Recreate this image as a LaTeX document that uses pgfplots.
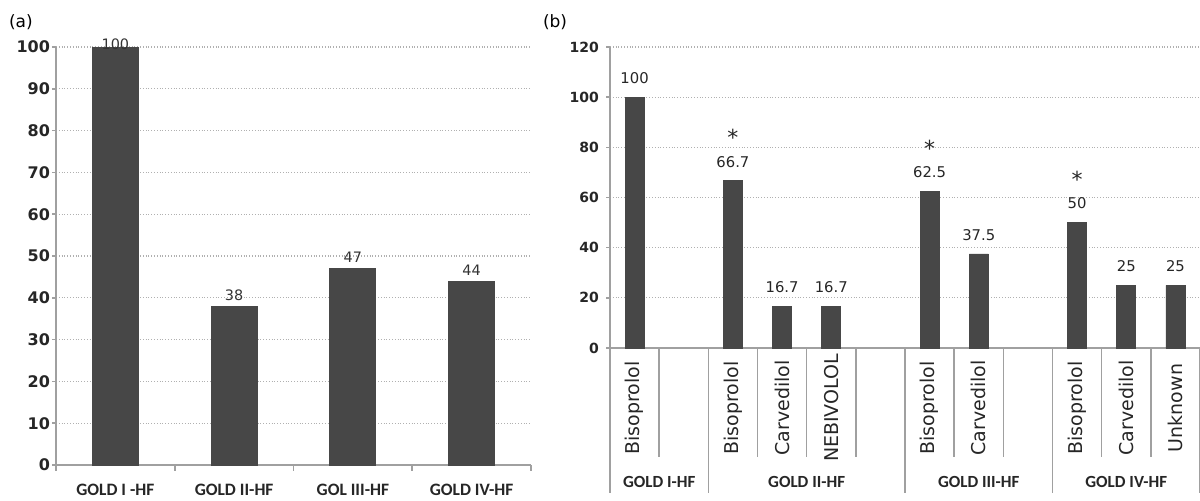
\documentclass[border=0pt]{standalone}
\usepackage{pgfplots}
\pgfplotsset{compat=1.18}
\usepackage{fontspec}
\setmainfont{DejaVu Sans}
\newfontfamily\calfont{Carlito}
\definecolor{barc}{HTML}{474747}
\definecolor{axc}{HTML}{A0A0A0}
\definecolor{gridc}{HTML}{B0B0B0}
\newcommand{\fs}[1]{\fontsize{#1}{#1}\selectfont}
\pgfplotsset{
  /pgf/number format/assume math mode=true,
  base/.style={
    scale only axis, anchor=south west, clip=false,
    axis x line=bottom, axis y line=left,
    axis line style={axc, line width=0.8pt, -},
    tick align=outside, major tick length=2pt,
    tick style={axc, line width=0.8pt},
    xtick style={draw=none},
    ymajorgrids, grid style={gridc, densely dotted, line width=0.6pt},
  }
}
\begin{document}
\begin{tikzpicture}
\useasboundingbox (0,0) rectangle (600pt,250pt);
\node[anchor=west, font=\fs{8.5}] at (1pt,239pt) {(a)};
\node[anchor=west, font=\fs{8.5}] at (268pt,239pt) {(b)};
% ---------- panel (a)
\begin{axis}[base,
  at={(28pt,17.5pt)}, width=237.5pt, height=209pt,
  xmin=0, xmax=4, ymin=0, ymax=100,
  ytick={0,10,...,100},
  yticklabel style={font=\bfseries\fs{8}, text=black!85},
  yticklabel shift=-2.5pt,
  xtick={0.5,1.5,2.5,3.5},
  xticklabels={GOLD I -HF, GOLD II-HF, GOL III-HF, GOLD IV-HF},
  xticklabel style={font=\calfont\bfseries\fs{8.7}, text=black!85},
  xticklabel shift=4pt,
]
\addplot[ybar, bar width=23pt, bar shift=0pt, fill=barc, draw=barc]
  coordinates {(0.5,100) (1.5,38) (2.5,47) (3.5,44)};
\addplot[draw=none, mark=none, nodes near coords,
  nodes near coords style={anchor=center, yshift=5.5pt, font=\fs{7.2}, text=black!80}]
  coordinates {(1.5,38) (2.5,47) (3.5,44)};
\addplot[draw=none, mark=none, nodes near coords,
  nodes near coords style={anchor=center, yshift=1.5pt, font=\fs{7.2}, text=black!80}]
  coordinates {(0.5,100)};
\pgfplotsinvokeforeach{0,1,2,3,4}{\draw[axc, line width=0.8pt] (axis cs:#1,0) -- ++(0,-3pt);}
\end{axis}
% ---------- panel (b)
\begin{axis}[base,
  at={(305pt,76pt)}, width=295pt, height=150.5pt,
  xmin=0, xmax=12, ymin=0, ymax=120,
  ytick={0,20,...,120},
  yticklabel style={font=\bfseries\fs{7}, text=black!85},
  xtick={0.5,2.5,3.5,4.5,6.5,7.5,9.5,10.5,11.5},
  xticklabels={Bisoprolol,Bisoprolol,Carvedilol,NEBIVOLOL,Bisoprolol,Carvedilol,Bisoprolol,Carvedilol,Unknown},
  xticklabel style={rotate=90, anchor=center, font=\fs{9.5}, text=black!85},
  xticklabel shift=28pt,
]
\addplot[ybar, bar width=9.5pt, bar shift=0pt, fill=barc, draw=barc,
  nodes near coords,
  nodes near coords style={anchor=center, yshift=9.5pt, font=\fs{7.4}, text=black!85}]
  coordinates {(0.5,100) (2.5,66.7) (3.5,16.7) (4.5,16.7) (6.5,62.5) (7.5,37.5) (9.5,50) (10.5,25) (11.5,25)};
\addplot[draw=none, mark=none, nodes near coords={*},
  nodes near coords style={anchor=center, yshift=21.5pt, font=\fs{11}, text=black!85}]
  coordinates {(2.5,66.7) (6.5,62.5) (9.5,50)};
\pgfplotsinvokeforeach{1,3,4,5,7,8,10,11}{\draw[axc, line width=0.8pt] (axis cs:#1,0) -- ++(0,-54.5pt);}
\pgfplotsinvokeforeach{0,2,6,9,12}{\draw[axc, line width=0.8pt] (axis cs:#1,0) -- ++(0,-72.5pt);}
\node[font=\calfont\bfseries\fs{8.5}, text=black!85] at (axis cs:1,0) [yshift=-67pt] {GOLD I-HF};
\node[font=\calfont\bfseries\fs{8.5}, text=black!85] at (axis cs:4,0) [yshift=-67pt] {GOLD II-HF};
\node[font=\calfont\bfseries\fs{8.5}, text=black!85] at (axis cs:7.5,0) [yshift=-67pt] {GOLD III-HF};
\node[font=\calfont\bfseries\fs{8.5}, text=black!85] at (axis cs:10.5,0) [yshift=-67pt] {GOLD IV-HF};
\end{axis}
\end{tikzpicture}
\end{document}
